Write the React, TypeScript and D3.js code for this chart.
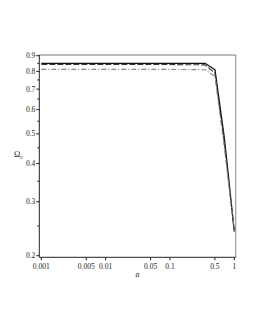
import React from "react";
import * as d3 from "d3";

const aValues = [0.001, 0.005, 0.01, 0.05, 0.1, 0.35, 0.5, 0.7, 1];
const solidSeries = [0.85, 0.85, 0.85, 0.85, 0.85, 0.85, 0.81, 0.485, 0.24];
const dashedSeries = [0.842, 0.842, 0.842, 0.842, 0.842, 0.84, 0.79, 0.47, 0.24];
const dashDotSeries = [0.812, 0.812, 0.812, 0.812, 0.812, 0.81, 0.77, 0.45, 0.24];

const xTicks = [0.001, 0.005, 0.01, 0.05, 0.1, 0.5, 1];
const xTickLabels = ["0.001", "0.005", "0.01", "0.05", "0.1", "0.5", "1"];
const yTicks = [0.2, 0.3, 0.4, 0.5, 0.6, 0.7, 0.8, 0.9];
const yTickLabels = ["0.2", "0.3", "0.4", "0.5", "0.6", "0.7", "0.8", "0.9"];
const yMinorTicks = [0.25, 0.35, 0.45, 0.55, 0.65, 0.75, 0.85];

const series = [
  { name: "solid", values: solidSeries, color: "#111", dash: "none", width: 1.3 },
  { name: "dashed", values: dashedSeries, color: "#333", dash: "6,2", width: 1.1 },
  { name: "dashdot", values: dashDotSeries, color: "#888", dash: "5,2,1,2", width: 1.1 },
];

export default function App() {
  const frame = { left: 39.3, right: 235.7, top: 55, bottom: 257.3 };

  const x = d3.scaleLog().domain([0.001, 1]).range([41.3, 234.3]);
  const y = d3.scaleLog().domain([0.2, 0.9]).range([255.7, 55.7]);

  const font = "'Liberation Serif', 'DejaVu Serif', serif";

  const line = (vals: number[]) =>
    d3
      .line<number>()
      .x((_, i) => x(aValues[i]))
      .y((d) => y(d))(vals) || "";

  return (
    <svg
      width={255}
      height={330}
      style={{ position: "absolute", left: 0, top: 0, background: "#fff" }}
    >
      {/* frame top and right */}
      <line x1={frame.left} x2={frame.right} y1={frame.top} y2={frame.top} stroke="#777" strokeWidth={1} />
      <line x1={frame.right} x2={frame.right} y1={frame.top} y2={frame.bottom} stroke="#999" strokeWidth={1.2} />

      {series.map((s) => (
        <path
          key={s.name}
          d={line(s.values)}
          fill="none"
          stroke={s.color}
          strokeWidth={s.width}
          strokeDasharray={s.dash}
          strokeLinejoin="round"
        />
      ))}

      {/* axes */}
      <line x1={frame.left} x2={frame.left} y1={frame.top} y2={frame.bottom} stroke="#222" strokeWidth={1} />
      <line x1={frame.left} x2={frame.right} y1={frame.bottom} y2={frame.bottom} stroke="#222" strokeWidth={1} />

      {yTicks.map((t, i) => (
        <g key={"y" + t}>
          <line x1={frame.left - 3} x2={frame.left} y1={y(t)} y2={y(t)} stroke="#222" />
          <text
            x={frame.left - 4}
            y={y(t)}
            dy="0.32em"
            textAnchor="end"
            fontFamily={font}
            fontSize={7.5}
            fill="#222"
          >
            {yTickLabels[i]}
          </text>
        </g>
      ))}
      {yMinorTicks.map((t) => (
        <line key={"ym" + t} x1={frame.left - 2} x2={frame.left} y1={y(t)} y2={y(t)} stroke="#222" />
      ))}

      {xTicks.map((t, i) => (
        <g key={"x" + t}>
          <line x1={x(t)} x2={x(t)} y1={frame.bottom} y2={frame.bottom + 3} stroke="#222" />
          <text
            x={x(t)}
            y={frame.bottom + 12}
            textAnchor="middle"
            fontFamily={font}
            fontSize={7.5}
            fill="#222"
          >
            {xTickLabels[i]}
          </text>
        </g>
      ))}

      <text
        x={(frame.left + frame.right) / 2}
        y={frame.bottom + 20}
        textAnchor="middle"
        fontFamily={font}
        fontStyle="italic"
        fontSize={8}
        fill="#222"
      >
        a
      </text>

      <text x={14} y={157} fontFamily={font} fontSize={8.5} fill="#222">
        Ω
        <tspan fontSize={5.5} dy={2}>
          c
        </tspan>
      </text>
    </svg>
  );
}
